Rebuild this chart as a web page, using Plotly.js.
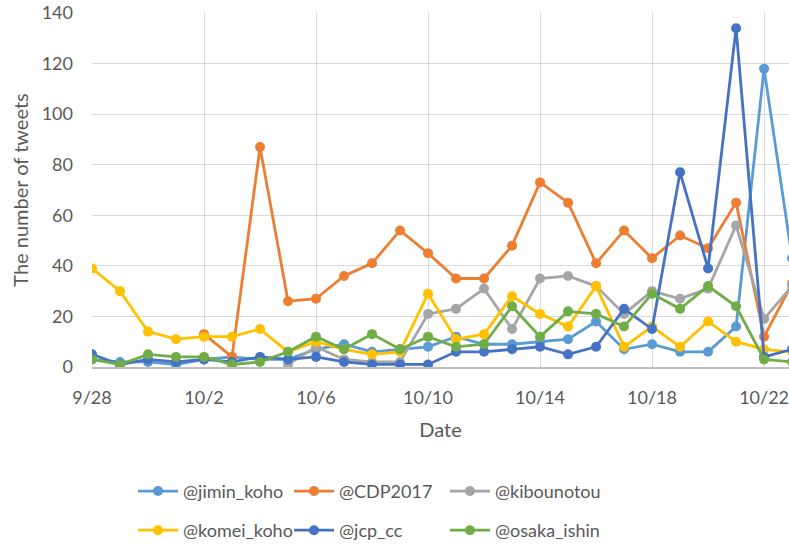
<!DOCTYPE html>
<html>
<head>
<meta charset="utf-8">
<script src="https://cdn.plot.ly/plotly-3.0.1.min.js"></script>
<style>html,body{margin:0;padding:0;overflow:hidden;background:#fff;}#chart{width:789px;height:549px;}</style>
</head>
<body>
<div id="chart"></div>
<script>
const dates = ['9/28','9/29','9/30','10/1','10/2','10/3','10/4','10/5','10/6','10/7','10/8','10/9','10/10','10/11','10/12','10/13','10/14','10/15','10/16','10/17','10/18','10/19','10/20','10/21','10/22','10/23'];
const jimin_koho  = [3,2,2,1,3,4,3,3,7,9,6,7,8,12,9,9,10,11,18,7,9,6,6,16,118,43];
const CDP2017     = [null,null,null,null,13,4,87,26,27,36,41,54,45,35,35,48,73,65,41,54,43,52,47,65,12,33];
const kibounotou  = [null,null,null,null,null,null,null,1,8,3,2,2,21,23,31,15,35,36,32,21,30,27,31,56,19,32];
const komei_koho  = [39,30,14,11,12,12,15,6,10,7,5,6,29,11,13,28,21,16,32,8,16,8,18,10,7,6];
const jcp_cc      = [5,1,3,2,3,2,4,3,4,2,1,1,1,6,6,7,8,5,8,23,15,77,39,134,4,7];
const osaka_ishin = [3,1,5,4,4,1,2,6,12,7,13,7,12,8,9,24,12,22,21,16,29,23,32,24,3,2];
const tickLabels = ['9/28','10/2','10/6','10/10','10/14','10/18','10/22'];
const yTicks = [0,20,40,60,80,100,120,140];

const seriesNames = ['@jimin_koho','@CDP2017','@kibounotou','@komei_koho','@jcp_cc','@osaka_ishin'];
const seriesData = [jimin_koho, CDP2017, kibounotou, komei_koho, jcp_cc, osaka_ishin];
const colors = ['#5B9BD5','#ED7D31','#A5A5A5','#FFC000','#4472C4','#70AD47'];
const legendIds = ['legend','legend','legend','legend2','legend2','legend2'];

const traces = seriesData.map((d,i)=>({
  type:'scatter', mode:'lines+markers', x:dates, y:d, name:seriesNames[i],
  line:{color:colors[i], width:2.8}, marker:{color:colors[i], size:10},
  legend:legendIds[i], connectgaps:false
}));

const FONT = 'Lato, "Open Sans", sans-serif';
const legendCommon = {orientation:'h', xanchor:'left', yanchor:'middle', xref:'paper', yref:'paper',
  font:{family:FONT, size:18, color:'#595959'}, itemwidth:40, entrywidth:101, entrywidthmode:'pixels',
  bgcolor:'rgba(0,0,0,0)'};

const layout = {
  width:789, height:549,
  margin:{l:92, r:0, t:13, b:180.5},
  paper_bgcolor:'#fff', plot_bgcolor:'#fff',
  showlegend:true,
  xaxis:{type:'category', range:[0, 24.89], tickmode:'array', tickvals:tickLabels, ticktext:tickLabels,
    showgrid:true, gridcolor:'#D9D9D9', gridwidth:1, showline:true, linecolor:'#BFBFBF', linewidth:1.5,
    ticks:'', ticklabelstandoff:14, tickfont:{family:FONT, size:18, color:'#595959'},
    title:{text:'Date', font:{family:FONT, size:20, color:'#595959'}, standoff:16}, automargin:false, zeroline:false},
  yaxis:{range:[0,140], tickmode:'array', tickvals:yTicks, showgrid:true, gridcolor:'#D9D9D9', gridwidth:1,
    zeroline:false, showline:false, ticks:'', ticklabelstandoff:18,
    tickfont:{family:FONT, size:18, color:'#595959'},
    title:{text:'The number of tweets', font:{family:FONT, size:20, color:'#595959'}, standoff:7}, automargin:false},
  legend:Object.assign({}, legendCommon, {x:(133-92)/697, y:(368.5-492)/355.5}),
  legend2:Object.assign({}, legendCommon, {x:(133-92)/697, y:(368.5-532)/355.5})
};

Plotly.newPlot('chart', traces, layout, {displayModeBar:false, staticPlot:true});
</script>
</body>
</html>
